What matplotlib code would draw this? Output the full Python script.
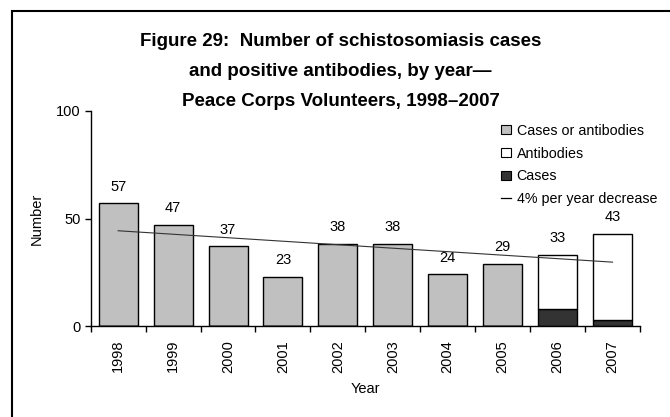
import matplotlib.pyplot as plt
from matplotlib.patches import Patch, Rectangle
from matplotlib.lines import Line2D
import numpy as np

# data
years = ['1998', '1999', '2000', '2001', '2002', '2003', '2004', '2005', '2006', '2007']
cases_or_antibodies = [57, 47, 37, 23, 38, 38, 24, 29, 0, 0]
cases = [0, 0, 0, 0, 0, 0, 0, 0, 8, 3]
antibodies = [0, 0, 0, 0, 0, 0, 0, 0, 25, 40]
totals = [57, 47, 37, 23, 38, 38, 24, 29, 33, 43]
trend_years = ['1998', '2007']
trend_values = [44.3, 29.7]

title = ('Figure 29:  Number of schistosomiasis cases\n'
         'and positive antibodies, by year\u2014\n'
         'Peace Corps Volunteers, 1998\u20132007')

plt.rcParams['font.family'] = ['Liberation Sans', 'DejaVu Sans']

W, H = 670, 417
fig = plt.figure(figsize=(W / 100, H / 100), dpi=100)
ax = fig.add_axes([90.7 / W, 1 - 326 / H, (640 - 90.7) / W, (326 - 111) / H])

gray = '#c0c0c0'
dark = '#333333'
x = np.arange(len(years))
bw = 0.71

ax.bar(x, cases_or_antibodies, width=bw, color=gray, edgecolor='black', linewidth=1.0, zorder=2)
ax.bar(x, cases, width=bw, color=dark, edgecolor='black', linewidth=1.0, zorder=2)
ax.bar(x, antibodies, width=bw, bottom=cases, color='white', edgecolor='black', linewidth=1.0, zorder=2)

for xi, t in zip(x, totals):
    ax.text(xi, t + 4.6, str(t), ha='center', va='bottom', fontsize=10.5)

tx = [years.index(y) for y in trend_years]
ax.plot(tx, trend_values, color='#333333', linewidth=0.8, zorder=3)

ax.set_xlim(-0.5, len(years) - 0.5)
ax.set_ylim(0, 100)
ax.set_yticks([0, 50, 100])
ax.tick_params(axis='y', labelsize=10.5, length=4, width=1, pad=3)
ax.set_xticks(x)
ax.set_xticklabels(years, rotation=90, fontsize=10.5)
ax.tick_params(axis='x', length=0, pad=10)
ax.set_xticks(np.arange(len(years) + 1) - 0.5, minor=True)
ax.tick_params(axis='x', which='minor', length=4, width=1, direction='out')
for s in ['top', 'right']:
    ax.spines[s].set_visible(False)
for s in ['left', 'bottom']:
    ax.spines[s].set_linewidth(1.0)

ax.set_ylabel('Number', fontsize=10.5, labelpad=9)
ax.set_xlabel('Year', fontsize=10.5, labelpad=7)

fig.text(340.5 / W, 1 - 71 / H, title, ha='center', va='center',
         fontsize=13.5, fontweight='bold', linespacing=2.0)

handles = [
    Patch(facecolor=gray, edgecolor='black', linewidth=0.8),
    Patch(facecolor='white', edgecolor='black', linewidth=0.8),
    Patch(facecolor=dark, edgecolor='black', linewidth=0.8),
    Line2D([0], [0], color='black', linewidth=0.9),
]
labels = ['Cases or antibodies', 'Antibodies', 'Cases', '4% per year decrease']
fig.legend(handles, labels, loc='upper left', bbox_to_anchor=(501 / W, 1 - 124 / H),
           frameon=False, fontsize=10.3, handlelength=0.7, handleheight=0.6,
           handletextpad=0.4, labelspacing=0.6, borderaxespad=0, borderpad=0)

fig.patches.append(Rectangle((11.7 / W, -0.1), 1.2, 1 - 11 / H + 0.1,
                             transform=fig.transFigure, fill=False,
                             edgecolor='black', linewidth=1.5))

fig.savefig('out.png', dpi=100)
